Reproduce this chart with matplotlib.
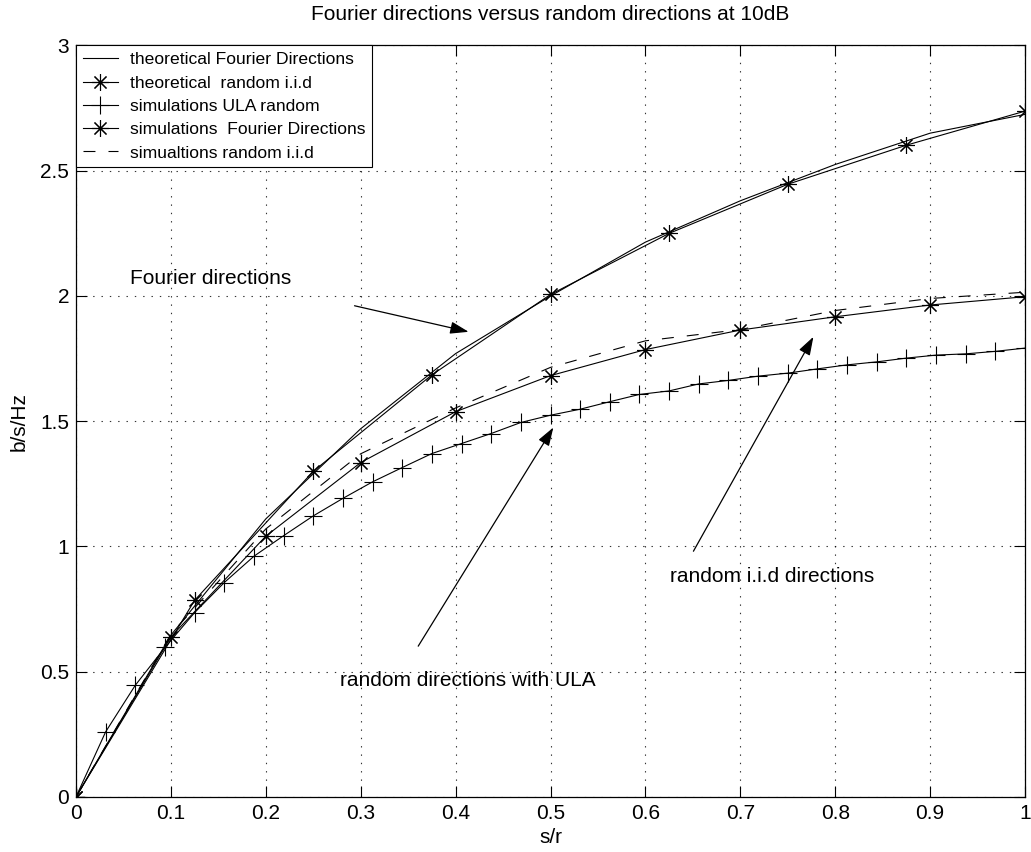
import numpy as np
import matplotlib
matplotlib.use("Agg")
import matplotlib.pyplot as plt

# ---- data ----
x_tenth = [0, 0.1, 0.2, 0.3, 0.4, 0.5, 0.6, 0.7, 0.8, 0.9, 1.0]
theo_fourier = [0, 0.646, 1.11, 1.47, 1.77, 2.0, 2.215, 2.38, 2.525, 2.65, 2.725]
theo_iid = [0, 0.639, 1.041, 1.335, 1.538, 1.682, 1.786, 1.864, 1.917, 1.964, 1.997]
sim_iid = [0, 0.65, 1.07, 1.37, 1.553, 1.715, 1.821, 1.866, 1.942, 1.99, 2.015]

x_eighth = [0, 0.125, 0.25, 0.375, 0.5, 0.625, 0.75, 0.875, 1.0]
sim_fourier = [0, 0.785, 1.30, 1.685, 2.006, 2.25, 2.446, 2.602, 2.738]

x_ula = [i / 32 for i in range(33)]
sim_ula = [0, 0.26, 0.446, 0.597, 0.736, 0.856, 0.961, 1.043, 1.122, 1.192,
           1.258, 1.315, 1.371, 1.411, 1.451, 1.495, 1.524, 1.548, 1.578,
           1.607, 1.621, 1.649, 1.663, 1.680, 1.692, 1.709, 1.725, 1.737,
           1.752, 1.764, 1.769, 1.779, 1.792]

labels = ["theoretical Fourier Directions", "theoretical  random i.i.d",
          "simulations ULA random", "simulations  Fourier Directions",
          "simualtions random i.i.d"]
xticks = [0, 0.1, 0.2, 0.3, 0.4, 0.5, 0.6, 0.7, 0.8, 0.9, 1]
xticklabels = ['0', '0.1', '0.2', '0.3', '0.4', '0.5', '0.6', '0.7', '0.8', '0.9', '1']
yticks = [0, 0.5, 1, 1.5, 2, 2.5, 3]
yticklabels = ['0', '0.5', '1', '1.5', '2', '2.5', '3']

plt.rcParams['font.family'] = ['Liberation Sans', 'DejaVu Sans']
plt.rcParams['lines.scale_dashes'] = False

fig = plt.figure(figsize=(10.31, 8.52), dpi=100)
ax = fig.add_axes([0.0737, 0.0646, 0.9205, 0.882])

lw = 0.8
star = (8, 2, 0)
ax.plot(x_tenth, theo_fourier, color='k', lw=lw, label=labels[0])
ax.plot(x_tenth, theo_iid, color='k', lw=lw, marker=star, ms=12, mew=0.8, label=labels[1])
ax.plot(x_ula, sim_ula, color='k', lw=lw, marker='+', ms=13, mew=0.8, label=labels[2])
ax.plot(x_eighth, sim_fourier, color='k', lw=lw, marker=star, ms=12, mew=0.8, label=labels[3])
ax.plot(x_tenth, sim_iid, color='k', lw=lw, ls='--', dashes=(8.6, 9.4), label=labels[4])

ax.set_xlim(0, 1)
ax.set_ylim(0, 3)
ax.set_xticks(xticks)
ax.set_yticks(yticks)
ax.set_xticklabels(xticklabels)
ax.set_yticklabels(yticklabels)
ax.tick_params(direction='in', top=True, right=True, length=8, width=0.8,
               labelsize=15, pad=5)
ax.grid(True, color='k', linestyle=(0, (1, 5)), linewidth=0.8, alpha=0.8)
for s in ax.spines.values():
    s.set_linewidth(0.9)

ax.set_title("Fourier directions versus random directions at 10dB", fontsize=15, pad=18)
ax.set_xlabel("s/r", fontsize=15, labelpad=4)
ax.set_ylabel("b/s/Hz", fontsize=15, labelpad=8)

leg = ax.legend(loc='upper left', bbox_to_anchor=(0, 1), borderaxespad=0,
                fontsize=12.6, fancybox=False, edgecolor='k', framealpha=1,
                handlelength=2.0, handletextpad=0.7, borderpad=0.38,
                labelspacing=0.46)
leg.get_frame().set_linewidth(0.8)

arrow = dict(arrowstyle='-|>,head_length=0.75,head_width=0.25', color='k',
             lw=0.9, shrinkA=0, shrinkB=0, mutation_scale=15)
ax.annotate('', xy=(0.4137, 1.857), xytext=(0.2935, 1.961), arrowprops=arrow)
ax.annotate('', xy=(0.503, 1.475), xytext=(0.3606, 0.602), arrowprops=arrow)
ax.annotate('', xy=(0.777, 1.837), xytext=(0.6506, 0.981), arrowprops=arrow)
ax.text(0.057, 2.07, "Fourier directions", fontsize=15, ha='left', va='center')
ax.text(0.2785, 0.466, "random directions with ULA", fontsize=15, ha='left', va='center')
ax.text(0.626, 0.879, "random i.i.d directions", fontsize=15, ha='left', va='center')

fig.savefig("out.png", dpi=100)
